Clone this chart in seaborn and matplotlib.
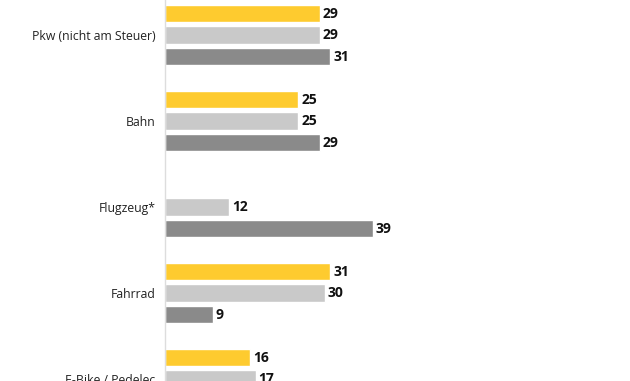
import matplotlib
matplotlib.use("Agg")
import pandas as pd
import seaborn as sns
from matplotlib import pyplot as plt

modes = ["Pkw (nicht am Steuer)", "Bahn", "Flugzeug*", "Fahrrad", "E-Bike / Pedelec"]
groups = ["Gruppe 1", "Gruppe 2", "Gruppe 3"]
series_1 = [29, 25, None, 31, 16]
series_2 = [29, 25, 12, 30, 17]
series_3 = [31, 29, 39, 9, 14]
colors = ["#FECB2F", "#C9C9C9", "#8A8A8A"]

rows = []
for g, vals in zip(groups, [series_1, series_2, series_3]):
    for m, v in zip(modes, vals):
        if v is not None:
            rows.append({"mode": m, "group": g, "value": v})
df = pd.DataFrame(rows)

sns.set_theme(style="white")
plt.rcParams["font.family"] = ["Open Sans", "DejaVu Sans"]

fig = plt.figure(figsize=(6.3, 3.81), dpi=100)
ax = fig.add_axes([165 / 630, 0, 1 - 165 / 630, 1])

sns.barplot(data=df, y="mode", x="value", hue="group", order=modes,
            hue_order=groups, palette=colors, saturation=1, orient="h",
            width=0.75, gap=0.2, legend=False, ax=ax)

for cont in ax.containers:
    ax.bar_label(cont, fmt="%d", padding=2, fontsize=10,
                 fontweight="bold", color="#111111")

ax.set_xlim(0, 87.1)
ax.set_ylim(4.023, -0.407)
ax.set_xlabel("")
ax.set_ylabel("")
ax.set_xticks([])
ax.tick_params(axis="y", length=0, pad=7, labelsize=8.8, labelcolor="#222222")
for s in ["top", "right", "bottom"]:
    ax.spines[s].set_visible(False)
ax.spines["left"].set_color("#DDDDDD")
ax.spines["left"].set_linewidth(1)

fig.savefig("out.png", dpi=100)
